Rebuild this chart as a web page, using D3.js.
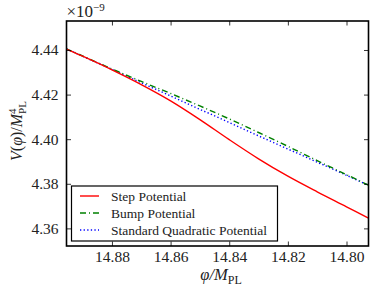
<!DOCTYPE html>
<html>
<head>
<meta charset="utf-8">
<script src="https://cdn.jsdelivr.net/npm/d3@7"></script>
<style>
	html, body { margin: 0; padding: 0; background: #fff; }
	svg { display: block; font-family: 'Liberation Serif', serif; }
</style>
</head>
<body>
<svg id="chart" width="388" height="291"></svg>
<script>
// field values (phi / M_PL), read along the x axis
const phi = [14.8955, 14.89, 14.88, 14.87, 14.86, 14.85, 14.84, 14.83, 14.82, 14.81, 14.80, 14.7925]

// potential values in units of 1e-9
const stepV = [4.4404, 4.4372, 4.4311, 4.4245, 4.4172, 4.4088, 4.3998, 4.3912, 4.3834, 4.3764, 4.3697, 4.3646]
const bumpV = [4.4405, 4.4373, 4.4315, 4.4259, 4.4205, 4.4149, 4.4091, 4.4030, 4.3968, 4.3904, 4.3841, 4.3794]
const quadV = [4.4405, 4.4372, 4.4313, 4.4253, 4.4194, 4.4134, 4.4075, 4.4015, 4.3956, 4.3897, 4.3838, 4.3793]

const xTicks = [14.88, 14.86, 14.84, 14.82, 14.80]
const yTicks = [4.36, 4.38, 4.40, 4.42, 4.44]

const series = [
	{name: 'Step Potential', values: stepV, color: '#ff0000', dash: null, width: 1.4},
	{name: 'Bump Potential', values: bumpV, color: '#008000', dash: '6,3,1,3', width: 1.4},
	{name: 'Standard Quadratic Potential', values: quadV, color: '#0000ff', dash: '1.3,2.3', width: 1.4},
]

const svg = d3.select('#chart')
const mLeft = 66.5, mRight = 368.5, mTop = 21, mBottom = 246

const x = d3.scaleLinear().domain([14.8955, 14.7925]).range([mLeft, mRight])
const y = d3.scaleLinear().domain([4.3521, 4.453]).range([mBottom, mTop])

svg.append('clipPath').attr('id', 'clip')
	.append('rect').attr('x', mLeft).attr('y', mTop).attr('width', mRight - mLeft).attr('height', mBottom - mTop)

// curves
const line = d3.line()
	.x(d => x(d[0]))
	.y(d => y(d[1]))
	.curve(d3.curveCatmullRom.alpha(0.5))

const plot = svg.append('g').attr('clip-path', 'url(#clip)')
series.slice().reverse().forEach(s => {
	plot.append('path')
		.datum(phi.map((p, i) => [p, s.values[i]]))
		.attr('d', line)
		.attr('fill', 'none')
		.attr('stroke', s.color)
		.attr('stroke-width', s.width)
		.attr('stroke-dasharray', s.dash)
})

// axes, ticks pointing inward on all four sides
const fmt = d3.format('.2f')
const tickLen = 4.5
svg.append('g').attr('transform', `translate(0,${mBottom})`)
	.call(d3.axisBottom(x).tickValues(xTicks).tickFormat(fmt).tickSizeInner(-tickLen).tickSizeOuter(0).tickPadding(5))
svg.append('g').attr('transform', `translate(0,${mTop})`)
	.call(d3.axisTop(x).tickValues(xTicks).tickFormat('').tickSizeInner(-tickLen).tickSizeOuter(0))
svg.append('g').attr('transform', `translate(${mLeft},0)`)
	.call(d3.axisLeft(y).tickValues(yTicks).tickFormat(fmt).tickSizeInner(-tickLen).tickSizeOuter(0).tickPadding(8))
svg.append('g').attr('transform', `translate(${mRight},0)`)
	.call(d3.axisRight(y).tickValues(yTicks).tickFormat('').tickSizeInner(-tickLen).tickSizeOuter(0))

svg.selectAll('.domain').remove()
svg.selectAll('.tick line').attr('stroke', '#000').attr('stroke-width', 0.8)
svg.selectAll('.tick text')
	.attr('font-family', "'Liberation Serif', serif")
	.attr('font-size', 15.5)
	.attr('fill', '#222')

svg.append('rect')
	.attr('x', mLeft).attr('y', mTop)
	.attr('width', mRight - mLeft).attr('height', mBottom - mTop)
	.attr('fill', 'none').attr('stroke', '#000').attr('stroke-width', 1.6)

// offset text
const off = svg.append('text').attr('x', mLeft).attr('y', 17).attr('font-size', 17).attr('fill', '#222')
off.append('tspan').text('×10')
off.append('tspan').attr('font-size', 11).attr('dy', -6).text('−9')

// x label
const xl = svg.append('text').attr('x', 221).attr('y', 280)
	.attr('text-anchor', 'middle').attr('font-size', 16.5).attr('fill', '#222')
xl.append('tspan').attr('font-style', 'italic').text('φ/M')
xl.append('tspan').attr('font-size', 12).attr('dy', 3.5).text('PL')

// y label
const yl = svg.append('text')
	.attr('transform', `translate(22,131) rotate(-90)`)
	.attr('text-anchor', 'middle').attr('font-size', 16).attr('fill', '#222')
yl.append('tspan').attr('font-style', 'italic').text('V')
yl.append('tspan').text('(')
yl.append('tspan').attr('font-style', 'italic').text('φ')
yl.append('tspan').text(')/')
yl.append('tspan').attr('font-style', 'italic').text('M')
yl.append('tspan').attr('font-size', 11).attr('dy', -6.5).text('4')
yl.append('tspan').attr('font-size', 11).attr('dx', -5.5).attr('dy', 10.5).text('PL')

// legend
const lg = svg.append('g')
lg.append('rect')
	.attr('x', 71.5).attr('y', 186).attr('width', 206).attr('height', 55)
	.attr('fill', '#fff').attr('stroke', '#000').attr('stroke-width', 1.2)
series.forEach((s, i) => {
	const ly = 196 + i * 17
	lg.append('line')
		.attr('x1', 80).attr('x2', 99).attr('y1', ly).attr('y2', ly)
		.attr('stroke', s.color).attr('stroke-width', s.width)
		.attr('stroke-dasharray', s.dash)
	lg.append('text')
		.attr('x', 111).attr('y', ly + 4.5)
		.attr('font-size', 13.5).attr('fill', '#222')
		.text(s.name)
})
</script>
</body>
</html>
